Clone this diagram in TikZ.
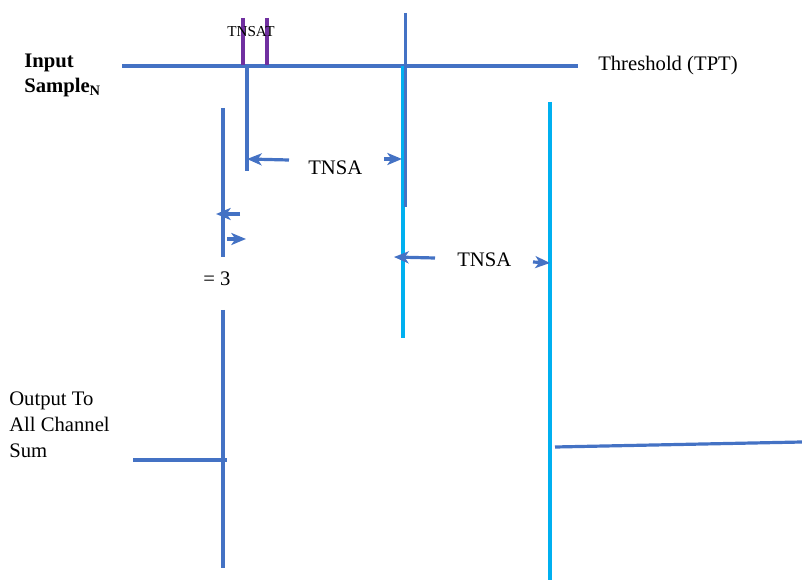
\documentclass[tikz,border=0pt]{standalone}
\usepackage[RGB]{xcolor}
\usepackage{fontspec}
\setmainfont{Liberation Serif}
\usetikzlibrary{arrows.meta}
\definecolor{B}{RGB}{68,114,196}
\definecolor{C}{RGB}{0,176,240}
\definecolor{P}{RGB}{112,48,160}
\newcommand{\drawline}[1]{\draw[#1, line width=2.4pt]}
\newcommand{\gaparrow}[2]{\draw[B, line width=2.4pt, -{Stealth[length=11pt,width=9pt,inset=3pt]}] (#1)--(#2);}
\newcommand{\labeltext}[4]{\node[anchor=base west, inner sep=0pt] (#1) at (#3,#4) {#2};}

\begin{document}
\begin{tikzpicture}[x=0.75pt,y=-0.75pt,font=\fontsize{15.5}{19.5}\selectfont]
\useasboundingbox (0,0) rectangle (802,580);
% threshold and the two pulses
\drawline{B} (122,66)--(578,66);
\drawline{P} (243,18)--(243,65);
\drawline{P} (267,18)--(267,65);
\drawline{B} (247,66)--(247,171);
\drawline{C} (403,66)--(403,338);
\drawline{B} (405.5,13)--(405.5,207);
\drawline{C} (550,102)--(550,580);
\drawline{B} (223,108)--(223,257);
\drawline{B} (223,310)--(223,568);
% outputs
\drawline{B} (133,460)--(227,460);
\drawline{B} (555,447)--(802,442);
% gaps
\gaparrow{289,160}{247,159}
\gaparrow{384,159}{402,159}
\gaparrow{240,214}{216,214}
\gaparrow{227,239}{246,239}
\gaparrow{435,258}{394,257}
\gaparrow{533,262}{550,263}
% labels
\labeltext{thr}{Threshold (TPT)}{598}{71}
\labeltext{tnsa1}{TNSA}{308}{175}
\labeltext{tnsa2}{TNSA}{457}{267}
\labeltext{eq}{= 3}{203}{286}
\node[anchor=base west, inner sep=0pt, font=\fontsize{11.4}{13}\selectfont] (tnsat) at (227,37) {TNSAT};
\node[anchor=north west, inner sep=0pt, align=left, font=\bfseries\fontsize{15.5}{18.75}\selectfont] (inp) at (24,53.5) {Input\\Sample\textsubscript{N}};
\node[anchor=north west, inner sep=0pt, align=left] (out) at (9,391.5) {Output To\\All Channel\\Sum};
\end{tikzpicture}
\end{document}
